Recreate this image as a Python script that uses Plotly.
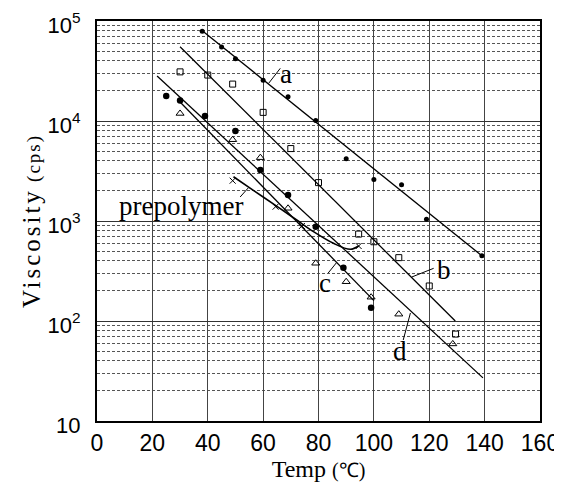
import math
import plotly.graph_objects as go

# ---- data ----
a_temp = [38, 45, 50, 60, 69, 79, 90, 100, 110, 119, 139]
a_visc = [79000, 55000, 42000, 25500, 17500, 10100, 4200, 2600, 2300, 1040, 450]
b_temp = [30, 40, 49, 60, 70, 80, 94.5, 100, 109, 120, 129.5]
b_visc = [31000, 28800, 23400, 12200, 5300, 2420, 740, 620, 430, 224, 74]
c_temp = [25, 30, 39, 50, 59, 69, 79, 89, 99]
c_visc = [17800, 16000, 11200, 7940, 3240, 1820, 877, 341, 136]
d_temp = [30, 49, 59, 69, 79, 90, 99, 109, 128.5]
d_visc = [11900, 6500, 4300, 1340, 378, 247, 173, 117, 59]
pre_temp = [49, 64.5, 74, 94.5]
pre_visc = [2530, 1390, 891, 562]
pre_curve_temp = [49.3, 57, 65, 72, 78.2, 85.4, 91.5, 94.5]
pre_curve_visc = [2770, 1980, 1400, 1030, 782, 598, 521, 562]

a_fit_temp = [37.8, 139.4]
a_fit_visc = [81000, 440]
b_fit_temp = [30, 129.4]
b_fit_visc = [55300, 100]
c_fit_temp = [29.3, 100]
c_fit_visc = [16200, 160]
d_fit_temp = [21.7, 139.4]
d_fit_visc = [28200, 27]

x_ticks = [0, 20, 40, 60, 80, 100, 120, 140, 160]
y_ticks = [10, 100, 1000, 10000, 100000]
y_ticktext = ["10", "10<sup>2</sup>", "10<sup>3</sup>", "10<sup>4</sup>", "10<sup>5</sup>"]
y_minor = [m * 10 ** e for e in range(1, 5) for m in range(2, 10)]

# labels: (text, text_x, text_y, leader_x, leader_y)
labels = [
    ("a", 68.3, 10 ** 4.47, [62.0, 66.2], [10 ** 4.377, 10 ** 4.527]),
    ("b", 125.3, 10 ** 2.51, [113.7, 121.6], [10 ** 2.44, 10 ** 2.527]),
    ("c", 82.4, 10 ** 2.38, [83.5, 86.4], [10 ** 2.48, 10 ** 2.58]),
    ("d", 109.5, 10 ** 1.70, [110.6, 113.2], [10 ** 1.81, 10 ** 2.08]),
]
pre_label = ("prepolymer", 30.3, 10 ** 3.15, [51.7, 54.6], [10 ** 3.24, 10 ** 3.33])

fig = go.Figure()
line_style = dict(color="black", width=1.3)

for fx, fy in [(a_fit_temp, a_fit_visc), (b_fit_temp, b_fit_visc),
               (c_fit_temp, c_fit_visc), (d_fit_temp, d_fit_visc)]:
    fig.add_trace(go.Scatter(x=fx, y=fy, mode="lines", line=line_style,
                             showlegend=False, hoverinfo="skip"))

fig.add_trace(go.Scatter(x=pre_curve_temp, y=pre_curve_visc, mode="lines",
                         line=dict(color="black", width=1.6, shape="spline"),
                         showlegend=False))

fig.add_trace(go.Scatter(x=a_temp, y=a_visc, mode="markers",
                         marker=dict(symbol="circle", size=5, color="black"),
                         showlegend=False))
fig.add_trace(go.Scatter(x=b_temp, y=b_visc, mode="markers",
                         marker=dict(symbol="square-open", size=6, color="black",
                                     line=dict(width=1)),
                         showlegend=False))
fig.add_trace(go.Scatter(x=c_temp, y=c_visc, mode="markers",
                         marker=dict(symbol="circle", size=6.5, color="black"),
                         showlegend=False))
fig.add_trace(go.Scatter(x=d_temp, y=d_visc, mode="markers",
                         marker=dict(symbol="triangle-up-open", size=7, color="black",
                                     line=dict(width=1)),
                         showlegend=False))
fig.add_trace(go.Scatter(x=pre_temp, y=pre_visc, mode="markers",
                         marker=dict(symbol="x-thin-open", size=6, color="black",
                                     line=dict(width=1)),
                         showlegend=False))

serif = "Liberation Serif, Times New Roman, serif"
for txt, tx, ty, lx, ly in labels + [pre_label]:
    fig.add_trace(go.Scatter(x=lx, y=ly, mode="lines",
                             line=dict(color="black", width=1),
                             showlegend=False, hoverinfo="skip"))
    fig.add_annotation(x=tx, y=math.log10(ty), text=txt, showarrow=False,
                       font=dict(family=serif, size=27, color="black"),
                       xanchor="center", yanchor="middle")

axis_common = dict(showline=True, linecolor="black", linewidth=2, mirror=True,
                   ticks="", zeroline=False, automargin=False,
                   ticklabeloverflow="allow")

fig.update_xaxes(range=[0, 160], tickvals=x_ticks, showgrid=True,
                 gridcolor="#444", gridwidth=1,
                 tickfont=dict(family="Liberation Sans, Arial", size=23, color="black"),
                 title=dict(text="Temp <span style='font-size:20px'>(℃)</span>",
                            font=dict(family=serif, size=24, color="black"),
                            standoff=6),
                 **axis_common)
fig.update_yaxes(type="log", range=[1, 5], tickvals=y_ticks, ticktext=y_ticktext,
                 showgrid=True, gridcolor="#333", gridwidth=1,
                 ticklabelstandoff=10, ticklabelshift=4,
                 minor=dict(tickvals=y_minor, showgrid=True, gridcolor="#555",
                            griddash="3px,2px", gridwidth=1, ticks=""),
                 tickfont=dict(family="Liberation Sans, Arial", size=22, color="black"),
                 title=dict(text="<span style='letter-spacing:3px'>Viscosity</span> "
                                 "<span style='font-size:19px;letter-spacing:2px'>(cps)</span>",
                            font=dict(family=serif, size=25, color="black"),
                            standoff=0),
                 **axis_common)

# page body adds an 8px offset; margins compensate so the plot area lands at 97..540 x 21..421
fig.update_layout(width=554, height=479, margin=dict(l=89, r=22, t=13, b=66),
                  plot_bgcolor="white", paper_bgcolor="white")

fig.write_html("out.html")
